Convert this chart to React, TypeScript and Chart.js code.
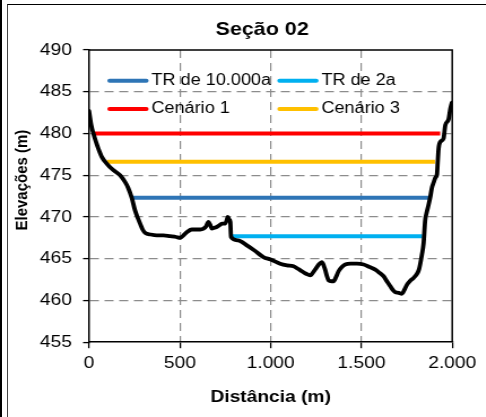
import React, { useEffect, useRef } from "react";
import { Chart, registerables } from "chart.js";

Chart.register(...registerables);

// ---------- data ----------
const terrainDist = [
  0, 12, 24, 38, 51, 70, 97, 134, 171, 198, 215, 235, 253, 270, 281, 295, 309, 340, 373, 410,
  446, 480, 501, 520, 540, 566, 612, 630, 645, 657, 668, 676, 690, 703, 718, 731, 749, 758, 764, 772,
  778, 782, 820, 869, 910, 960, 1000, 1052, 1090, 1126, 1150, 1172, 1195, 1218, 1232, 1245, 1265, 1282, 1292, 1300,
  1310, 1319, 1335, 1346, 1360, 1374, 1392, 1411, 1440, 1475, 1512, 1545, 1576, 1600, 1622, 1640, 1659, 1675, 1686, 1705,
  1723, 1737, 1751, 1770, 1787, 1809, 1818, 1824, 1833, 1842, 1851, 1860, 1870, 1880, 1888, 1897, 1907, 1916, 1920, 1925,
  1934, 1952, 1962, 1980, 1989, 1998,
];
const terrainElev = [
  482.7, 481.0, 480.0, 479.0, 478.2, 477.2, 476.4, 475.6, 475.0, 474.2, 473.5, 472.3, 470.8, 469.8, 469.2, 468.5, 468.1, 467.9, 467.8, 467.8,
  467.7, 467.6, 467.5, 467.8, 468.2, 468.5, 468.5, 468.6, 468.9, 469.4, 469.0, 468.6, 468.7, 468.8, 469.0, 469.2, 469.2, 469.6, 470.0, 469.7,
  469.4, 467.6, 467.2, 466.6, 466.0, 465.2, 464.9, 464.4, 464.2, 464.1, 463.8, 463.5, 463.2, 463.0, 463.3, 463.7, 464.3, 464.6, 464.2, 463.7,
  462.9, 462.4, 462.3, 462.3, 462.8, 463.5, 464.0, 464.3, 464.4, 464.4, 464.3, 464.0, 463.7, 463.3, 462.9, 462.3, 461.7, 461.2, 461.0, 460.9,
  460.8, 461.3, 461.9, 462.4, 462.7, 463.3, 463.8, 464.4, 465.5, 466.8, 469.6, 470.6, 471.5, 472.5, 473.5, 474.1, 474.7, 475.1, 476.5, 478.2,
  479.0, 479.4, 481.0, 481.7, 482.9, 483.7,
];

const levelNames = ["TR de 10.000a", "TR de 2a", "Cenário 1", "Cenário 3"];
const levelElev = [472.3, 467.7, 480.0, 476.6];
const levelStart = [237, 777, 24, 99];
const levelEnd = [1868, 1835, 1934, 1905];
const levelColors = ["#2E75B6", "#00B0F0", "#FF0000", "#FFC000"];

const chartTitle = "Seção 02";
const xTitle = "Distância (m)";
const yTitle = "Elevações (m)";
const xMin = 0, xMax = 2000, xStep = 500;
const yMin = 455, yMax = 490, yStep = 5;

// ---------- style ----------
const FONT = "'Liberation Sans', Arial, Helvetica, sans-serif";
const SX = 1.13; // horizontal stretch of the original picture
const CW = 456; // canvas width in chart units
const CH = 417;
const GRID = "#8c8c8c";

const fmtThousands = (v: number) =>
  String(v).replace(/\B(?=(\d{3})+(?!\d))/g, ".");

const frameLegend = {
  id: "frameLegend",
  afterLayout(chart: any, _args: any, opts: any) {
    const s = chart.scales.y;
    if (!s || s.__shifted) return;
    const orig = s.drawTitle;
    s.drawTitle = function (...a: any[]) {
      const t = this.top, b = this.bottom;
      this.top = t - opts.yTitleShift;
      this.bottom = b - opts.yTitleShift;
      orig.apply(this, a);
      this.top = t;
      this.bottom = b;
    };
    s.__shifted = true;
  },
  beforeDatasetsDraw(chart: any) {
    const { ctx, chartArea: a } = chart;
    ctx.save();
    ctx.strokeStyle = "#000";
    ctx.lineWidth = 1.5;
    ctx.beginPath();
    ctx.moveTo(a.left, a.top);
    ctx.lineTo(a.right, a.top);
    ctx.lineTo(a.right, a.bottom);
    ctx.stroke();
    ctx.restore();
  },
  afterDraw(chart: any, _args: any, opts: any) {
    const { ctx, chartArea: a } = chart;
    const items = chart.data.datasets.filter((d: any) => d.inLegend);
    ctx.save();
    ctx.font = `${opts.fontSize}px ${FONT}`;
    ctx.textBaseline = "middle";
    ctx.textAlign = "left";
    items.forEach((ds: any, i: number) => {
      const col = i % opts.columns;
      const row = Math.floor(i / opts.columns);
      const x = a.left + opts.offsetX + col * opts.colWidth;
      const y = a.top + opts.offsetY + row * opts.rowHeight;
      ctx.strokeStyle = ds.borderColor;
      ctx.lineWidth = ds.borderWidth;
      ctx.lineCap = "round";
      ctx.beginPath();
      ctx.moveTo(x + 2, y);
      ctx.lineTo(x + opts.lineLen - 2, y);
      ctx.stroke();
      ctx.fillStyle = "#000";
      ctx.fillText(ds.label, x + opts.lineLen + opts.gap, y);
    });
    ctx.restore();
  },
};

export default function App() {
  const ref = useRef<HTMLCanvasElement | null>(null);

  useEffect(() => {
    if (!ref.current) return;
    const datasets: any[] = [
      {
        label: "Terreno",
        inLegend: false,
        data: terrainDist.map((x, i) => ({ x, y: terrainElev[i] })),
        borderColor: "#000000",
        borderWidth: 3.8,
        pointRadius: 0,
        cubicInterpolationMode: "monotone",
        borderJoinStyle: "round",
        borderCapStyle: "round",
        yAxisID: "y",
      },
      ...levelNames.map((name, i) => ({
        label: name,
        inLegend: true,
        data: [
          { x: levelStart[i], y: levelElev[i] },
          { x: levelEnd[i], y: levelElev[i] },
        ],
        borderColor: levelColors[i],
        borderWidth: 4,
        pointRadius: 0,
        yAxisID: "y",
      })),
    ];

    const chart = new Chart(ref.current, {
      type: "line",
      data: { datasets },
      plugins: [frameLegend],
      options: {
        animation: false,
        responsive: false,
        maintainAspectRatio: false,
        layout: { padding: { left: 8, right: 0, top: 8, bottom: 4 } },
        plugins: {
          legend: { display: false },
          tooltip: { enabled: false },
          title: {
            display: true,
            text: chartTitle,
            color: "#000",
            font: { family: FONT, size: 19, weight: "bold" },
            padding: { top: 10, bottom: 9.2 },
          },
          frameLegend: {
            fontSize: 16,
            columns: 2,
            offsetX: 16.2,
            offsetY: 30.7,
            colWidth: 150.4,
            rowHeight: 28.3,
            lineLen: 36.5,
            gap: 2.5,
            yTitleShift: 16,
          },
        } as any,
        scales: {
          x: {
            type: "linear",
            min: xMin,
            max: xMax,
            ticks: {
              stepSize: xStep,
              color: "#000",
              font: { family: FONT, size: 17 },
              padding: 4.8,
              maxRotation: 0,
              callback: (v: any) => fmtThousands(Number(v)),
            },
            grid: {
              color: (c: any) =>
                c.tick && (c.tick.value === xMin || c.tick.value === xMax) ? "rgba(0,0,0,0)" : GRID,
              lineWidth: 1.2,
              tickColor: "#000",
              tickLength: 6,
              tickWidth: 1.3,
            },
            border: { display: true, color: "#000", width: 1.5, dash: [8, 5] },
            title: {
              display: true,
              text: xTitle,
              color: "#000",
              font: { family: FONT, size: 17, weight: "bold" },
              padding: { top: 8.6, bottom: 5.8 },
            },
          },
          y: {
            type: "linear",
            position: "left",
            min: yMin,
            max: yMax,
            afterFit: (s: any) => {
              s.width = 70.8;
            },
            ticks: {
              stepSize: yStep,
              color: "#000",
              font: { family: FONT, size: 17 },
              padding: 9.8,
            },
            grid: {
              color: (c: any) =>
                c.tick && (c.tick.value === yMin || c.tick.value === yMax) ? "rgba(0,0,0,0)" : GRID,
              lineWidth: 1.2,
              tickColor: "#000",
              tickLength: 5.3,
              tickWidth: 1.3,
            },
            border: { display: true, color: "#000", width: 1.5, dash: [8, 5] },
            title: {
              display: true,
              text: yTitle,
              color: "#000",
              font: { family: FONT, size: 15, weight: "bold" },
              padding: { top: 2.5, bottom: 0 },
            },
          },
          spacer: {
            type: "linear",
            position: "right",
            display: true,
            afterFit: (s: any) => {
              s.width = 55.8;
            },
            ticks: { display: false },
            grid: { display: false },
            border: { display: false },
          },
        },
      } as any,
    });
    return () => chart.destroy();
  }, []);

  return (
    <div
      style={{
        position: "fixed",
        left: 0,
        top: 0,
        width: 486,
        height: 417,
        overflow: "hidden",
        background: "#fff",
      }}
    >
      <div
        style={{
          position: "absolute",
          left: 0,
          top: 0,
          width: CW,
          height: CH,
          transform: `scaleX(${SX})`,
          transformOrigin: "0 0",
        }}
      >
        <canvas ref={ref} width={CW} height={CH} style={{ display: "block", width: CW, height: CH }} />
      </div>
      <div style={{ position: "absolute", left: 0, top: 0, width: 1.5, height: 417, background: "#000" }} />
      <div
        style={{
          position: "absolute",
          left: 7,
          top: 4,
          right: 0,
          bottom: 0,
          borderTop: "1.5px solid #000",
          borderLeft: "1.5px solid #444",
          pointerEvents: "none",
        }}
      />
    </div>
  );
}
